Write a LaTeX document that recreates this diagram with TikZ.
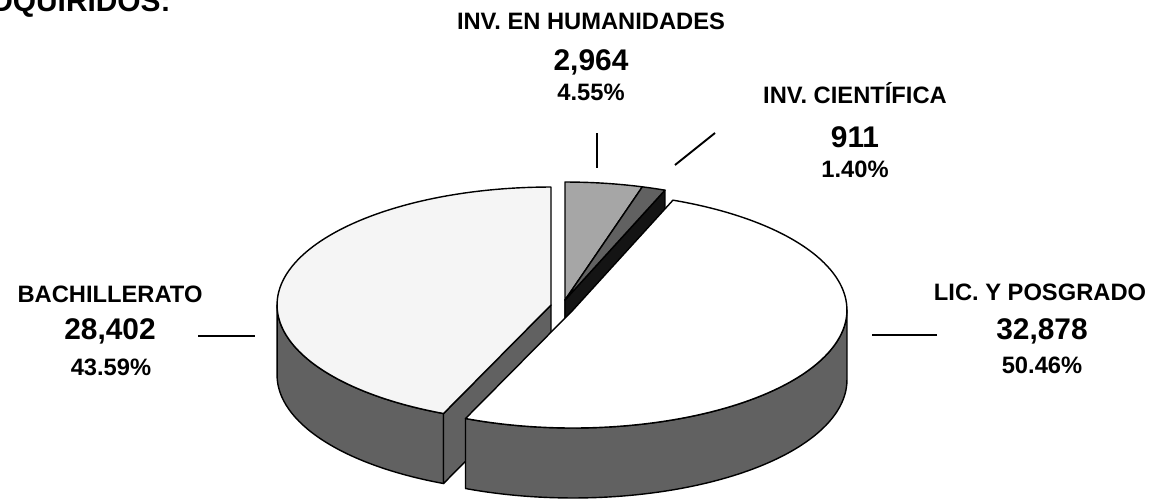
\documentclass[tikz,border=0pt]{standalone}
\usepackage{fontspec}
\setmainfont{Liberation Sans}
\usepackage{tikz}
\usetikzlibrary{calc}
\tikzset{
  lbl/.style={font=\fontsize{13.5}{15}\selectfont\bfseries,anchor=base,inner sep=0pt},
  num/.style={font=\fontsize{17}{19}\selectfont\bfseries,anchor=base,inner sep=0pt},
  pct/.style={font=\fontsize{13.5}{15}\selectfont\bfseries,anchor=base,inner sep=0pt},
  face/.style={draw=black,line width=0.8pt,line join=round},
  side/.style={face,fill=black!62},
  leader/.style={line width=1.1pt}
}
\def\rx{5.48cm}
\def\ry{2.36cm}
\begin{document}
\begin{tikzpicture}[x=0.02cm,y=0.02cm]
	\useasboundingbox (0,0) rectangle (1156,498);
	\node[anchor=base west,font=\fontsize{17}{19}\selectfont\bfseries,inner sep=0pt] (ttl) at (-9,486) {DQUIRIDOS:};
	% apexes of the slices
	\coordinate (B) at (551,193);
	\coordinate (L) at (573,188);
	\coordinate (H) at (565,198);
	% humanidades
	\filldraw[face,fill=black!75] (H) -- ++(73.6:5.48cm and 2.36cm) -- ++(0,-70) -- ([yshift=-1.4cm]H) -- cycle;
	\filldraw[face,fill=black!35] (H) -- ++(73.6:5.48cm and 2.36cm) arc[start angle=73.6,end angle=90,x radius=\rx,y radius=\ry] -- cycle;
	% cientifica
	\filldraw[face,fill=black!92] (H) -- ++(68.6:5.48cm and 2.36cm) -- ++(0,-70) -- ([yshift=-1.4cm]H) -- cycle;
	\filldraw[face,fill=black!62] (H) -- ++(68.6:5.48cm and 2.36cm) arc[start angle=68.6,end angle=73.6,x radius=\rx,y radius=\ry] -- cycle;
	% bachillerato
	\filldraw[side] (B) ++(180:5.48cm and 2.36cm) arc[start angle=180,end angle=246.9,x radius=\rx,y radius=\ry] -- ++(0,-70) arc[start angle=246.9,end angle=180,x radius=\rx,y radius=\ry] -- cycle;
	\filldraw[side] (B) -- ++(246.9:5.48cm and 2.36cm) -- ++(0,-70) -- ([yshift=-1.4cm]B) -- cycle;
	\filldraw[face,fill=black!4] (B) -- ++(90:5.48cm and 2.36cm) arc[start angle=90,end angle=246.9,x radius=\rx,y radius=\ry] -- cycle;
	% licenciatura y posgrado
	\filldraw[side] (L) ++(246.9:5.48cm and 2.36cm) arc[start angle=246.9,end angle=360,x radius=\rx,y radius=\ry] -- ++(0,-70) arc[start angle=360,end angle=246.9,x radius=\rx,y radius=\ry] -- cycle;
	\filldraw[face,fill=white] (L) -- ++(246.9:5.48cm and 2.36cm) arc[start angle=246.9,end angle=428.6,x radius=\rx,y radius=\ry] -- cycle;
	% labels
	\node[lbl] (humT) at (591,468) {INV. EN HUMANIDADES};
	\node[num] (humN) at (591,428) {2,964};
	\node[pct] (humP) at (591,398) {4.55\%};
	\node[lbl] (cieT) at (855,395) {INV. CIENTÍFICA};
	\node[num] (cieN) at (855,351) {911};
	\node[pct] (cieP) at (855,321) {1.40\%};
	\node[lbl] (bacT) at (110,196) {BACHILLERATO};
	\node[num] (bacN) at (110,159) {28,402};
	\node[pct] (bacP) at (111,123) {43.59\%};
	\node[lbl] (licT) at (1040,198) {LIC. Y POSGRADO};
	\node[num] (licN) at (1042,159) {32,878};
	\node[pct] (licP) at (1042,125) {50.46\%};
	% leader lines
	\coordinate (humA) at (597,365);
	\coordinate (humB) at (597,330);
	\coordinate (cieA) at (715,365);
	\coordinate (cieB) at (675,333);
	\coordinate (bacA) at (198,162);
	\coordinate (bacB) at (255,162);
	\coordinate (licA) at (937,163);
	\coordinate (licB) at (872,163);
	\draw[leader] (humA) -- (humB);
	\draw[leader] (cieA) -- (cieB);
	\draw[leader] (bacA) -- (bacB);
	\draw[leader] (licA) -- (licB);
\end{tikzpicture}
\end{document}
